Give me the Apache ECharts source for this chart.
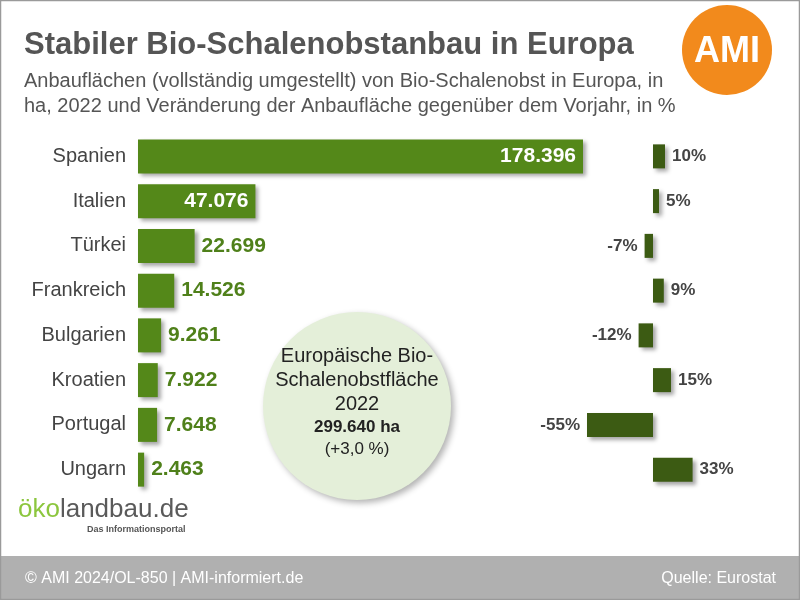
<!DOCTYPE html>
<html>
<head>
<meta charset="utf-8">
<script src="https://cdn.jsdelivr.net/npm/echarts@6/dist/echarts.min.js"></script>
<style>
  html, body { margin: 0; padding: 0; background: #fff; }
  #chart { width: 800px; height: 600px; }
</style>
</head>
<body>
<div id="chart"></div>
<script>
var laender = ['Spanien', 'Italien', 'Türkei', 'Frankreich', 'Bulgarien', 'Kroatien', 'Portugal', 'Ungarn'];
var flaeche2022 = [178396, 47076, 22699, 14526, 9261, 7922, 7648, 2463];
var veraenderung = [10, 5, -7, 9, -12, 15, -55, 33];

var fontFam = 'Liberation Sans, Arial, sans-serif';
var gruen = '#548819';
var dunkelgruen = '#3c5b13';

// 178396 -> "178.396"
function fmt(v) {
  return String(v).replace(/\B(?=(\d{3})+(?!\d))/g, '.');
}

var schatten = {
  shadowBlur: 4,
  shadowOffsetX: 3,
  shadowOffsetY: 3,
  shadowColor: 'rgba(0,0,0,0.35)'
};

var linksDaten = flaeche2022.map(function (v) {
  var innen = v > 40000;
  return {
    value: v,
    label: {
      position: innen ? 'insideRight' : 'right',
      color: innen ? '#fff' : '#4f801a'
    }
  };
});

var rechtsDaten = veraenderung.map(function (v) {
  return {
    value: v,
    label: { position: v < 0 ? 'left' : 'right' }
  };
});

var myChart = echarts.init(document.getElementById('chart'));

var option = {
  animation: false,
  backgroundColor: '#fff',
  textStyle: { fontFamily: fontFam },
  grid: [
    { left: 138, top: 134, width: 449, height: 358 },
    { left: 581, top: 134, width: 120, height: 358 }
  ],
  xAxis: [
    { gridIndex: 0, type: 'value', min: 0, max: 180000, show: false },
    { gridIndex: 1, type: 'value', min: -60, max: 40, show: false }
  ],
  yAxis: [
    {
      gridIndex: 0, type: 'category', data: laender, inverse: true,
      axisLine: { show: false }, axisTick: { show: false },
      axisLabel: { margin: 12, fontSize: 20, color: '#444', fontFamily: fontFam }
    },
    {
      gridIndex: 1, type: 'category', data: laender, inverse: true, show: false
    }
  ],
  series: [
    {
      type: 'bar', xAxisIndex: 0, yAxisIndex: 0,
      data: linksDaten, barWidth: 34,
      itemStyle: Object.assign({ color: gruen }, schatten),
      label: {
        show: true, distance: 7, fontSize: 21, fontWeight: 'bold',
        fontFamily: fontFam,
        formatter: function (p) { return fmt(p.value); }
      }
    },
    {
      type: 'bar', xAxisIndex: 1, yAxisIndex: 1,
      data: rechtsDaten, barWidth: 24,
      itemStyle: Object.assign({ color: dunkelgruen }, schatten),
      label: {
        show: true, distance: 7, fontSize: 17, fontWeight: 'bold',
        color: '#444', fontFamily: fontFam,
        formatter: '{c}%'
      }
    }
  ],
  graphic: [
    // rahmen
    { type: 'rect', shape: { x: 0.5, y: 0.5, width: 799, height: 599 },
      style: { fill: 'none', stroke: '#9a9a9a', lineWidth: 1.5 }, z: 1 },
    { type: 'text', left: 24, top: 30,
      style: { text: 'Stabiler Bio-Schalenobstanbau in Europa', fontSize: 31, fontWeight: 'bold', fill: '#555', fontFamily: fontFam } },
    { type: 'text', left: 24, top: 69,
      style: { text: 'Anbauflächen (vollständig umgestellt) von Bio-Schalenobst in Europa, in\nha, 2022 und Veränderung der Anbaufläche gegenüber dem Vorjahr, in %',
        fontSize: 20, lineHeight: 25, fill: '#555', fontFamily: fontFam } },
    // AMI logo
    { type: 'circle', shape: { cx: 727, cy: 50, r: 45 }, style: { fill: '#f28a1c' } },
    { type: 'text', x: 727, y: 52,
      style: { text: 'AMI', fontSize: 36, fontWeight: 'bold', fill: '#fff', align: 'center', verticalAlign: 'middle', fontFamily: fontFam } },
    // gesamtflaeche
    { type: 'circle', shape: { cx: 357, cy: 406, r: 94 },
      style: { fill: '#e4efd9', shadowBlur: 6, shadowOffsetX: 3, shadowOffsetY: 3, shadowColor: 'rgba(0,0,0,0.3)' } },
    { type: 'text', x: 357, y: 344,
      style: { text: 'Europäische Bio-\nSchalenobstfläche\n2022', fontSize: 20, lineHeight: 24, fill: '#222', align: 'center', verticalAlign: 'top', fontFamily: fontFam } },
    { type: 'text', x: 357, y: 427,
      style: { text: '299.640 ha', fontSize: 17, fontWeight: 'bold', fill: '#222', align: 'center', verticalAlign: 'middle', fontFamily: fontFam } },
    { type: 'text', x: 357, y: 449,
      style: { text: '(+3,0 %)', fontSize: 17, fill: '#222', align: 'center', verticalAlign: 'middle', fontFamily: fontFam } },
    // oekolandbau logo
    { type: 'text', left: 18, top: 497,
      style: { rich: {
          g: { fontSize: 26, fill: '#8cc63e', fontFamily: fontFam },
          d: { fontSize: 26, fill: '#5a5a5a', fontFamily: fontFam }
        }, text: '{g|öko}{d|landbau.de}',
        shadowBlur: 6, shadowOffsetX: 2, shadowOffsetY: 3, shadowColor: 'rgba(0,0,0,0.25)' } },
    { type: 'text', left: 87, top: 525,
      style: { text: 'Das Informationsportal', fontSize: 9, fontWeight: 'bold', fill: '#555', fontFamily: fontFam } },
    // fusszeile
    { type: 'rect', shape: { x: 0, y: 556, width: 800, height: 44 }, style: { fill: '#b0b0b0' } },
    { type: 'text', left: 25, top: 571,
      style: { text: '© AMI 2024/OL-850 | AMI-informiert.de', fontSize: 16, fill: '#fff', fontFamily: fontFam } },
    { type: 'text', right: 24, top: 571,
      style: { text: 'Quelle: Eurostat', fontSize: 16, fill: '#fff', fontFamily: fontFam } }
  ]
};

myChart.setOption(option);
</script>
</body>
</html>
